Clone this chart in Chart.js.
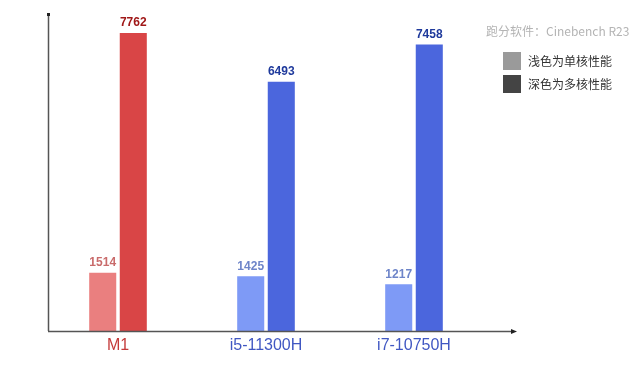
<!DOCTYPE html>
<html>
<head>
<meta charset="utf-8">
<script src="https://cdn.jsdelivr.net/npm/chart.js@4"></script>
<style>
  html, body { margin: 0; padding: 0; background: #fff; }
  #wrap { width: 640px; height: 376px; }
</style>
</head>
<body>
<div id="wrap"><canvas id="benchChart" width="640" height="376"></canvas></div>
<script>
/* Chart data */
const categories = ["M1", "i5-11300H", "i7-10750H"];
const singleCore = [1514, 1425, 1217];
const multiCore = [7762, 6493, 7458];
const legendLabels = ["浅色为单核性能", "深色为多核性能"];
const sourceNote = "跑分软件：Cinebench R23";

/* Colours per category */
const singleColors = ['#EA7F7F', '#7E9AF6', '#7E9AF6'];
const multiColors = ['#D94546', '#4B66DD', '#4B66DD'];
const singleLabelColors = ['#C96B6B', '#6E85C9', '#6E85C9'];
const multiLabelColors = ['#A01818', '#1F3A9C', '#1F3A9C'];
const categoryColors = ['#C43A3A', '#4057C2', '#4057C2'];

const data = {
    labels: categories,
    datasets: [{
        label: legendLabels[0],
        data: singleCore,
        backgroundColor: singleColors,
        borderWidth: 0,
        categoryPercentage: 0.413,
        barPercentage: 0.885
    }, {
        label: legendLabels[1],
        data: multiCore,
        backgroundColor: multiColors,
        borderWidth: 0,
        categoryPercentage: 0.413,
        barPercentage: 0.885
    }]
};

/* Axes, value labels, category labels, legend */
const decorations = {
    id: 'decorations',
    afterDatasetsDraw(chart) {
        const ctx = chart.ctx;
        const area = chart.chartArea;
        const x = chart.scales.x;
        ctx.save();

        // y axis with dot on top
        ctx.strokeStyle = '#555';
        ctx.lineWidth = 1.5;
        ctx.beginPath();
        ctx.moveTo(48.5, 14);
        ctx.lineTo(48.5, area.bottom);
        ctx.stroke();
        ctx.fillStyle = '#222';
        ctx.fillRect(47, 13, 3, 3);

        // x axis with small arrow
        ctx.beginPath();
        ctx.moveTo(48, area.bottom + 0.5);
        ctx.lineTo(513, area.bottom + 0.5);
        ctx.stroke();
        ctx.beginPath();
        ctx.moveTo(517, area.bottom + 0.5);
        ctx.lineTo(511, area.bottom - 2);
        ctx.lineTo(511, area.bottom + 3);
        ctx.closePath();
        ctx.fill();

        // value labels
        ctx.font = 'bold 12px "Liberation Sans", Arial, sans-serif';
        ctx.textAlign = 'center';
        ctx.textBaseline = 'bottom';
        const labelColors = [singleLabelColors, multiLabelColors];
        chart.data.datasets.forEach((ds, di) => {
            chart.getDatasetMeta(di).data.forEach((bar, i) => {
                ctx.fillStyle = labelColors[di][i];
                ctx.fillText(ds.data[i], bar.x, bar.y - 4);
            });
        });

        // category labels
        ctx.font = '16px "Liberation Sans", Arial, sans-serif';
        ctx.textBaseline = 'top';
        categories.forEach((c, i) => {
            ctx.fillStyle = categoryColors[i];
            ctx.fillText(c, x.getPixelForValue(i), area.bottom + 7);
        });

        // source note
        ctx.textAlign = 'left';
        ctx.textBaseline = 'middle';
        ctx.font = '12px "Noto Sans CJK SC", "Liberation Sans", sans-serif';
        ctx.fillStyle = '#B4B4B4';
        ctx.fillText(sourceNote, 486, 31);

        // legend
        const boxColors = ['#9A9A9A', '#444444'];
        legendLabels.forEach((t, i) => {
            const y = 52 + i * 23;
            ctx.fillStyle = boxColors[i];
            ctx.fillRect(503, y, 18, 18);
            ctx.fillStyle = '#333';
            ctx.font = '12px "Noto Sans CJK SC", sans-serif';
            ctx.fillText(t, 528, y + 9);
        });
        ctx.restore();
    }
};

/* Configure chart */
const bench = document.getElementById('benchChart');
new Chart(bench, {
    type: 'bar',
    data,
    options: {
        responsive: false,
        animation: false,
        layout: { padding: { left: 44, right: 152, top: 14, bottom: 45 } },
        plugins: {
            legend: { display: false },
            tooltip: { enabled: false }
        },
        scales: {
            x: { display: false },
            y: { display: false, min: 0, max: 8255 }
        }
    },
    plugins: [decorations]
});
</script>
</body>
</html>
